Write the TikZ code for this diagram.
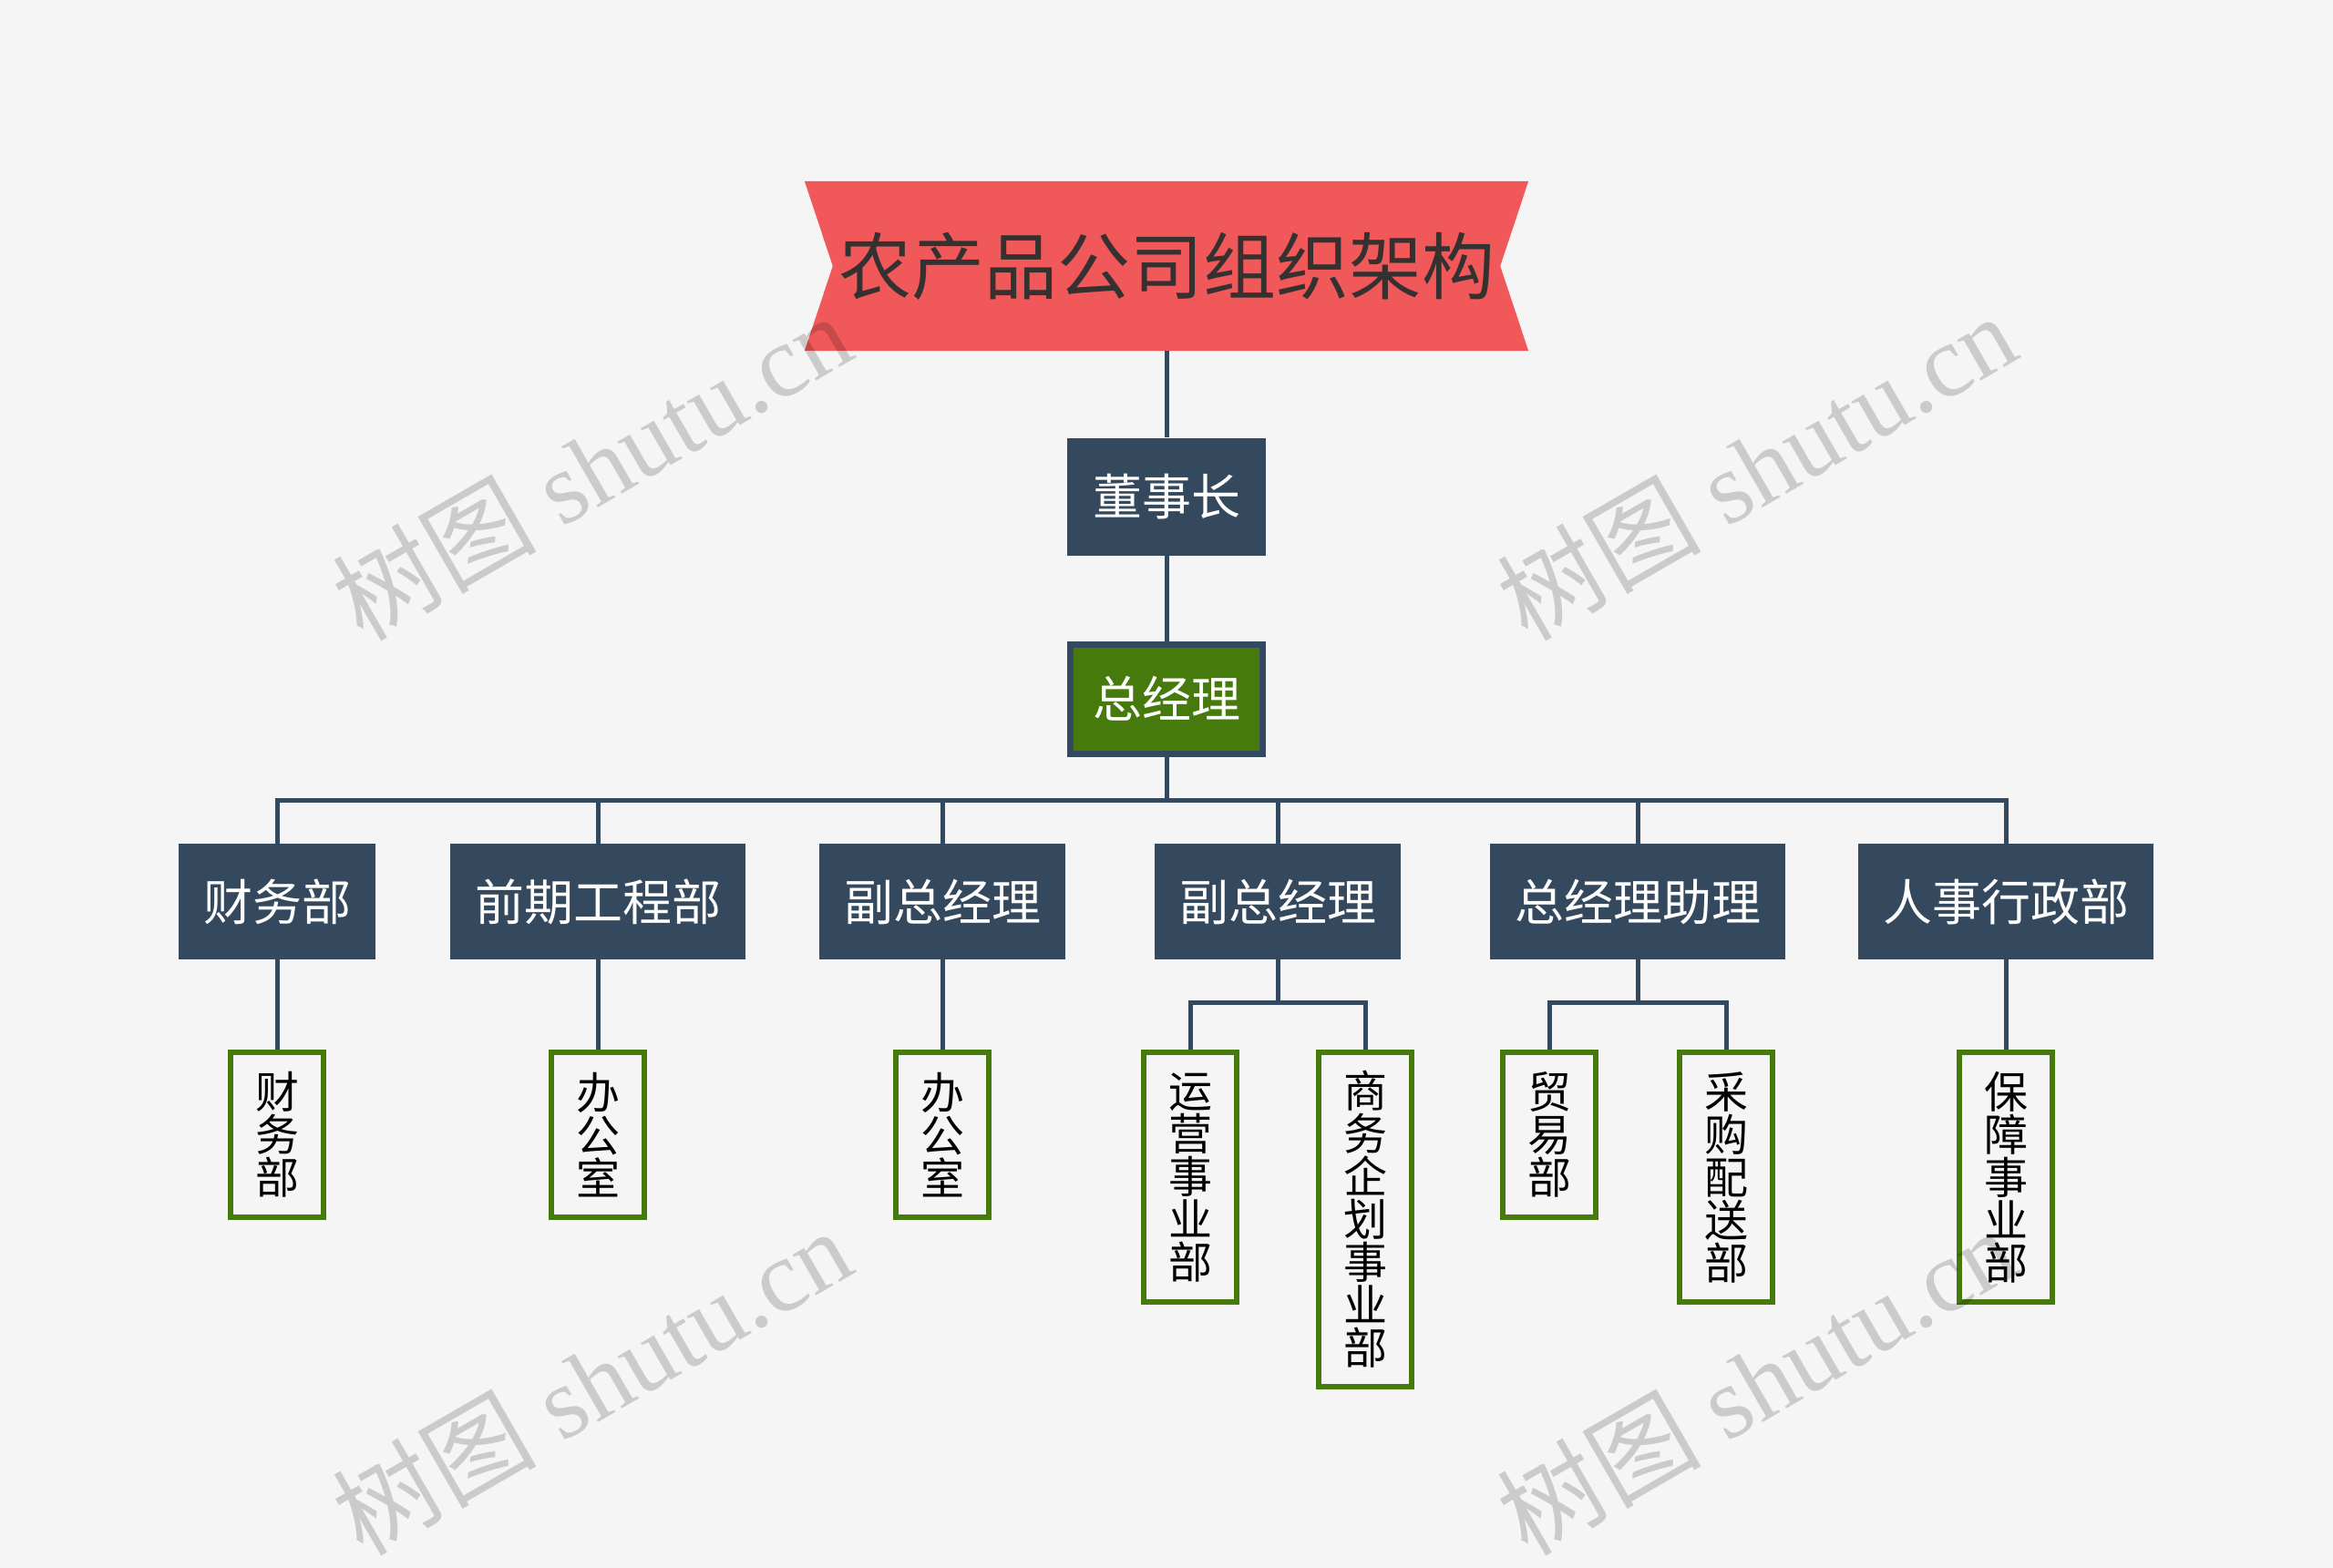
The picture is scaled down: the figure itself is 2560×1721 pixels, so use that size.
\documentclass[tikz,border=0pt]{standalone}
\usepackage{fontspec}
\setmainfont{Liberation Serif}
\newfontfamily\cjk{Noto Sans CJK SC}
\newfontfamily\wmlatin{Liberation Serif}
\usetikzlibrary{backgrounds}
\definecolor{bg}{HTML}{F5F5F5}
\definecolor{navy}{HTML}{34495E}
\definecolor{leafgreen}{HTML}{467A0C}
\definecolor{banner}{HTML}{F05859}
\definecolor{titletext}{HTML}{363131}
\begin{document}
\begin{tikzpicture}[x=1pt,y=-1pt,
 conn/.style={draw=navy, line width=5pt},
 l2/.style={fill=navy, text=white, font=\cjk\fontsize{54}{54}\selectfont, inner xsep=27pt, inner ysep=0pt, minimum height=127pt, anchor=north},
 leaf/.style={draw=leafgreen, line width=6pt, fill=bg, text=black, font=\cjk\fontsize{48}{47}\selectfont, align=center, minimum width=102pt, inner sep=0pt, anchor=north},
 wm/.style={rotate=30, text=black, text opacity=0.17, font=\fontsize{112}{112}\selectfont, inner sep=0pt},
]
\useasboundingbox (0,0) rectangle (2560,1721);

% title
\node[minimum width=794pt, minimum height=186pt, inner sep=0pt, text=titletext, font=\cjk\fontsize{80}{80}\selectfont] (title) at (1280,292) {农产品公司组织架构};
\begin{pgfonlayer}{background}
\fill[bg] (0,0) rectangle (2560,1721);
\fill[banner] (title.north west) -- (title.north east) -- ([xshift=-31pt]title.east) -- (title.south east) -- (title.south west) -- ([xshift=31pt]title.west) -- cycle;
\end{pgfonlayer}

% top chain
\node[l2, anchor=center, minimum width=218pt, minimum height=129pt] (chair) at (1280,545) {董事长};
\node[draw=navy, line width=7pt, fill=leafgreen, text=white, font=\cjk\fontsize{54}{54}\selectfont, minimum width=211pt, minimum height=120pt, inner sep=0pt] (gm) at (1280,767) {总经理};

% level 2
\node[l2] (cw) at (304,926) {财务部};
\node[l2] (qq) at (656,926) {前期工程部};
\node[l2] (vp1) at (1034,926) {副总经理};
\node[l2] (vp2) at (1402,926) {副总经理};
\node[l2] (asst) at (1797,926) {总经理助理};
\node[l2] (hr) at (2201,926) {人事行政部};

% leaves
\node[leaf, minimum height=181pt] (lcw) at (304,1152) {财\\务\\部};
\node[leaf, minimum height=181pt] (lqq) at (656,1152) {办\\公\\室};
\node[leaf, minimum height=181pt] (lvp1) at (1034,1152) {办\\公\\室};
\node[leaf, minimum height=274pt] (lyy) at (1306,1152) {运\\营\\事\\业\\部};
\node[leaf, minimum height=367pt] (lsw) at (1498,1152) {商\\务\\企\\划\\事\\业\\部};
\node[leaf, minimum height=181pt] (lmy) at (1700,1152) {贸\\易\\部};
\node[leaf, minimum height=274pt] (lcg) at (1894,1152) {采\\购\\配\\送\\部};
\node[leaf, minimum height=274pt] (lbz) at (2201,1152) {保\\障\\事\\业\\部};

% connectors
\coordinate (bus) at (1280,878);
\coordinate (bus2) at (1402,1100);
\coordinate (bus3) at (1797,1100);
\begin{pgfonlayer}{background}
\draw[conn] (title.south) -- (chair.north);
\draw[conn] (chair.south) -- (gm.north);
\foreach \c in {cw,qq,vp1,vp2,asst,hr}{
  \draw[conn] (gm.south) -- (gm.south |- bus) -| (\c.north);
}
\draw[conn] (cw.south) -- (lcw.north);
\draw[conn] (qq.south) -- (lqq.north);
\draw[conn] (vp1.south) -- (lvp1.north);
\draw[conn] (vp2.south) -- (bus2) -| (lyy.north);
\draw[conn] (bus2) -| (lsw.north);
\draw[conn] (asst.south) -- (bus3) -| (lmy.north);
\draw[conn] (bus3) -| (lcg.north);
\draw[conn] (hr.south) -- (lbz.north);
\end{pgfonlayer}

% watermarks
\node[wm] (wm1) at (649,512) {{\cjk 树图} {\wmlatin shutu.cn}};
\node[wm] (wm2) at (1927,512) {{\cjk 树图} {\wmlatin shutu.cn}};
\node[wm] (wm3) at (649,1516) {{\cjk 树图} {\wmlatin shutu.cn}};
\node[wm] (wm4) at (1927,1516) {{\cjk 树图} {\wmlatin shutu.cn}};
\end{tikzpicture}
\end{document}
